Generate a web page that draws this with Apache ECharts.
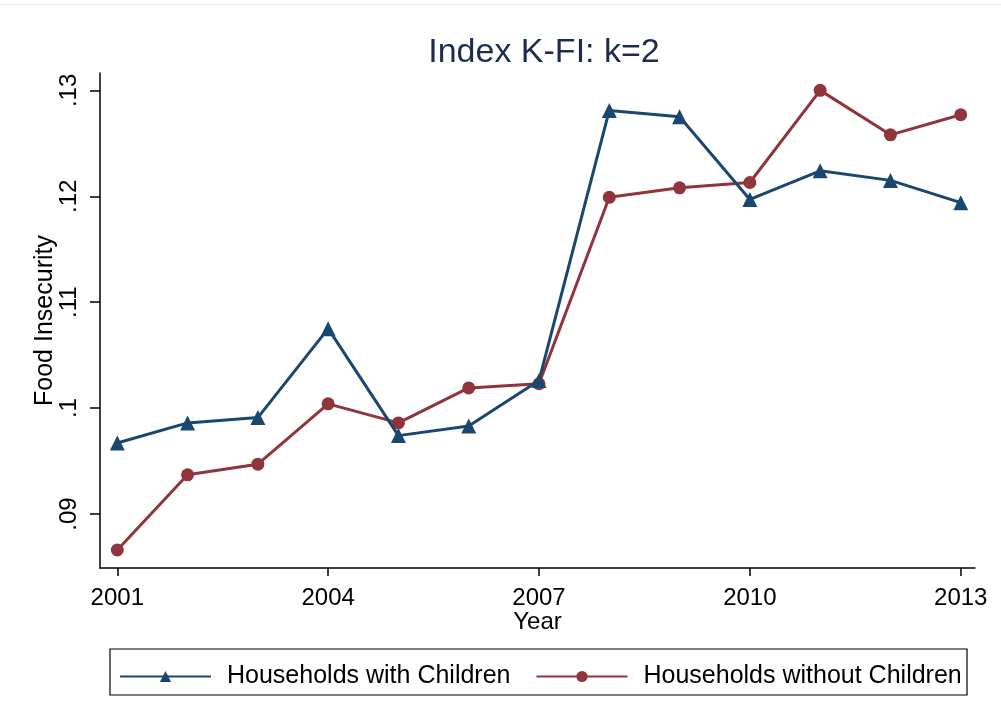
<!DOCTYPE html>
<html>
<head>
<meta charset="utf-8">
<script src="https://cdn.jsdelivr.net/npm/echarts@6/dist/echarts.min.js"></script>
<style>
  html, body { margin: 0; padding: 0; background: #ffffff; }
  #chart { width: 1001px; height: 726px; }
</style>
</head>
<body>
<div id="chart"></div>
<script>
// Survey years and food-insecurity index (K-FI, k=2) by household type
const years = [2001, 2002, 2003, 2004, 2005, 2006, 2007, 2008, 2009, 2010, 2011, 2012, 2013];
const withChildren = [0.0967, 0.0986, 0.0991, 0.1075, 0.0974, 0.0983, 0.1026, 0.1281, 0.1275, 0.1197, 0.1224, 0.1215, 0.1194];
const withoutChildren = [0.0866, 0.0937, 0.0947, 0.1004, 0.0986, 0.1019, 0.1023, 0.1199, 0.1208, 0.1213, 0.1300, 0.1258, 0.1277];
const xTicks = [2001, 2004, 2007, 2010, 2013];
const yTicks = [0.09, 0.10, 0.11, 0.12, 0.13];
const yTickLabels = ['.09', '.1', '.11', '.12', '.13'];

const FONT = 'Liberation Sans, Arial, sans-serif';
const BLUE = '#1a476f';
const RED = '#90353b';

const chart = echarts.init(document.getElementById('chart'), null, { renderer: 'canvas' });

const pairs = (ys) => years.map((y, i) => [y, ys[i]]);

chart.setOption({
  backgroundColor: '#ffffff',
  animation: false,
  title: {
    text: 'Index K-FI: k=2',
    left: 539,
    textAlign: 'center',
    top: 31,
    textStyle: { fontFamily: FONT, fontSize: 34, fontWeight: 'normal', color: '#1e2b4f' }
  },
  grid: { left: 100, right: 26, top: 73, bottom: 158, containLabel: false },
  xAxis: {
    type: 'value',
    min: 2000.754,
    max: 2013.203,
    name: 'Year',
    nameLocation: 'middle',
    nameGap: 42,
    nameMoveOverlap: false,
    nameTextStyle: { fontFamily: FONT, fontSize: 24, color: '#000' },
    axisLine: { show: true, lineStyle: { color: '#000', width: 1.5 } },
    axisTick: { show: true, length: 8, lineStyle: { color: '#000', width: 1.5 }, customValues: xTicks },
    axisLabel: {
      fontFamily: FONT, fontSize: 24, color: '#000', margin: 18,
      customValues: xTicks,
      formatter: (v) => String(Math.round(v))
    },
    splitLine: { show: false }
  },
  yAxis: {
    type: 'value',
    min: 0.0849,
    max: 0.13164,
    name: 'Food Insecurity',
    nameLocation: 'middle',
    nameRotate: 90,
    nameGap: 42,
    nameMoveOverlap: false,
    nameTextStyle: { fontFamily: FONT, fontSize: 25, color: '#000' },
    axisLine: { show: true, lineStyle: { color: '#000', width: 1.5 } },
    axisTick: { show: true, length: 10, lineStyle: { color: '#000', width: 1.5 }, customValues: yTicks },
    axisLabel: {
      fontFamily: FONT, fontSize: 24, color: '#000', rotate: 90, margin: 19,
      customValues: yTicks,
      formatter: (v) => {
        const i = yTicks.findIndex(t => Math.abs(t - v) < 1e-6);
        return i >= 0 ? yTickLabels[i] : '';
      }
    },
    splitLine: { show: false }
  },
  legend: {
    left: 114,
    top: 659,
    itemWidth: 91,
    itemHeight: 14,
    itemGap: 25,
    textStyle: { fontFamily: FONT, fontSize: 25, color: '#000', padding: [0, 0, 0, 11] },
    data: ['Households with Children', 'Households without Children']
  },
  graphic: [
    {
      type: 'rect',
      shape: { x: 110, y: 649, width: 857, height: 46 },
      style: { fill: 'none', stroke: '#000', lineWidth: 1.2 },
      silent: true
    },
    {
      type: 'line',
      shape: { x1: 0, y1: 4.5, x2: 1001, y2: 4.5 },
      style: { stroke: '#e8ecef', lineWidth: 1 },
      silent: true
    }
  ],
  series: [
    {
      name: 'Households with Children',
      type: 'line',
      data: pairs(withChildren),
      symbol: 'triangle',
      symbolSize: 15,
      lineStyle: { color: BLUE, width: 3 },
      itemStyle: { color: BLUE },
      z: 3
    },
    {
      name: 'Households without Children',
      type: 'line',
      data: pairs(withoutChildren),
      symbol: 'circle',
      symbolSize: 13,
      lineStyle: { color: RED, width: 3 },
      itemStyle: { color: RED },
      z: 2
    }
  ]
});
</script>
</body>
</html>
